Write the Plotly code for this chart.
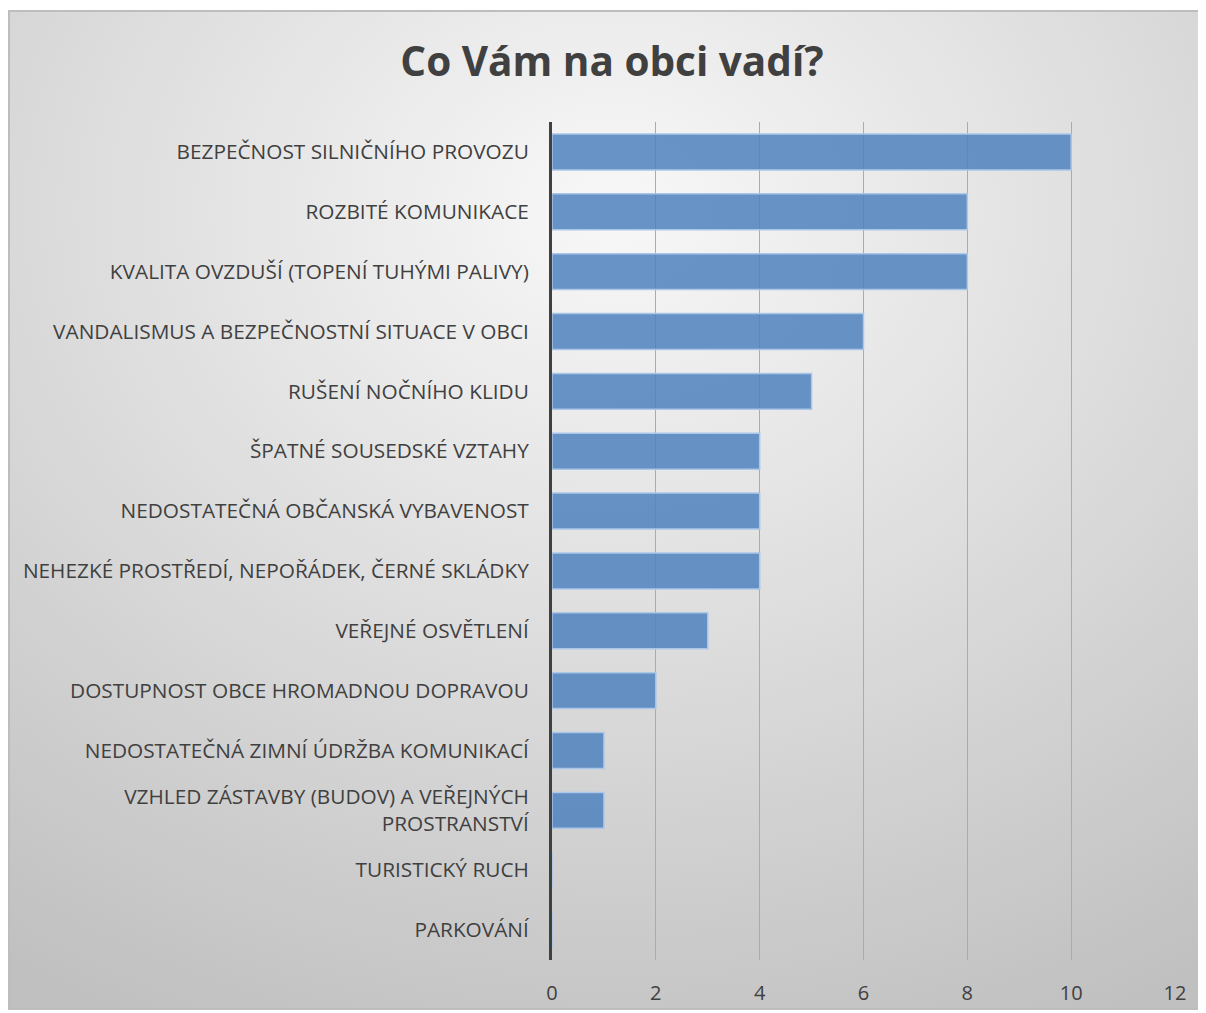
import base64
import plotly.graph_objects as go

# =========================
# Data
# =========================

categories = [
    'BEZPEČNOST SILNIČNÍHO PROVOZU',
    'ROZBITÉ KOMUNIKACE',
    'KVALITA OVZDUŠÍ (TOPENÍ TUHÝMI PALIVY)',
    'VANDALISMUS A BEZPEČNOSTNÍ SITUACE V OBCI',
    'RUŠENÍ NOČNÍHO KLIDU',
    'ŠPATNÉ SOUSEDSKÉ VZTAHY',
    'NEDOSTATEČNÁ OBČANSKÁ VYBAVENOST',
    'NEHEZKÉ PROSTŘEDÍ, NEPOŘÁDEK, ČERNÉ SKLÁDKY',
    'VEŘEJNÉ OSVĚTLENÍ',
    'DOSTUPNOST OBCE HROMADNOU DOPRAVOU',
    'NEDOSTATEČNÁ ZIMNÍ ÚDRŽBA KOMUNIKACÍ',
    'VZHLED ZÁSTAVBY (BUDOV) A VEŘEJNÝCH<br>PROSTRANSTVÍ',
    'TURISTICKÝ RUCH',
    'PARKOVÁNÍ',
]
counts = [10, 8, 8, 6, 5, 4, 4, 4, 3, 2, 1, 1, 0, 0]
x_ticks = [0, 2, 4, 6, 8, 10, 12]

# =========================
# Layout geometry (page has an 8px body margin)
# =========================

FIG_W, FIG_H = 1198, 1005
L, R, T, B = 544, 1167, 114, 952
W, H = R - L, B - T
BOX_X0, BOX_Y0, BOX_W, BOX_H = 0, 2, 1210, 1000

# =========================
# Background (radial gradient)
# =========================

svg = (
    f'<svg xmlns="http://www.w3.org/2000/svg" width="{BOX_W}" height="{BOX_H}" '
    f'viewBox="0 0 {BOX_W} {BOX_H}" preserveAspectRatio="none">'
    '<defs><radialGradient id="g" cx="0.5" cy="0.2" r="0.9">'
    '<stop offset="0" stop-color="#f8f8f8"/>'
    '<stop offset="1" stop-color="#c0c0c0"/>'
    '</radialGradient></defs>'
    f'<rect x="1" y="1" width="{BOX_W - 2}" height="{BOX_H - 2}" fill="url(#g)" '
    'stroke="#bdbdbd" stroke-width="2"/></svg>'
)
bg_src = 'data:image/svg+xml;base64,' + base64.b64encode(svg.encode()).decode()

# =========================
# Figure
# =========================

fig = go.Figure()
fig.add_trace(go.Bar(
    x=counts,
    y=categories,
    orientation='h',
    width=0.6,
    marker=dict(
        color='rgba(79, 129, 189, 0.85)',
        line=dict(color='rgba(170, 198, 232, 1)', width=1.5),
    ),
    hoverinfo='x+y',
))

fig.add_layout_image(dict(
    source=bg_src,
    xref='paper', yref='paper',
    x=(BOX_X0 - L) / W, y=(B - BOX_Y0) / H,
    sizex=BOX_W / W, sizey=BOX_H / H,
    xanchor='left', yanchor='top',
    sizing='stretch',
    layer='below',
))

fig.update_layout(
    width=FIG_W,
    height=FIG_H,
    showlegend=False,
    title=dict(
        text='<b>Co Vám na obci vadí?</b>',
        xref='container', x=604 / FIG_W, xanchor='center',
        yref='container', y=1 - 54 / FIG_H, yanchor='middle',
        font=dict(family='Open Sans', size=40.5, color='#404040'),
    ),
    xaxis=dict(
        range=[0, 12],
        tickvals=x_ticks,
        showgrid=True,
        gridcolor='#ababab',
        gridwidth=1,
        zeroline=False,
        showline=False,
        ticks='',
        ticklabelstandoff=19,
        tickfont=dict(family='Open Sans', size=20, color='#404040'),
        fixedrange=True,
    ),
    yaxis=dict(
        autorange='reversed',
        showgrid=False,
        showline=True,
        linecolor='#404040',
        linewidth=3,
        ticks='',
        ticklabelstandoff=16,
        tickfont=dict(family='Open Sans', size=20.8, color='#404040'),
        fixedrange=True,
    ),
    margin=dict(l=L, r=FIG_W - R, t=T, b=FIG_H - B, autoexpand=False),
    paper_bgcolor='white',
    plot_bgcolor='rgba(0, 0, 0, 0)',
)

fig.write_html('out.html')
